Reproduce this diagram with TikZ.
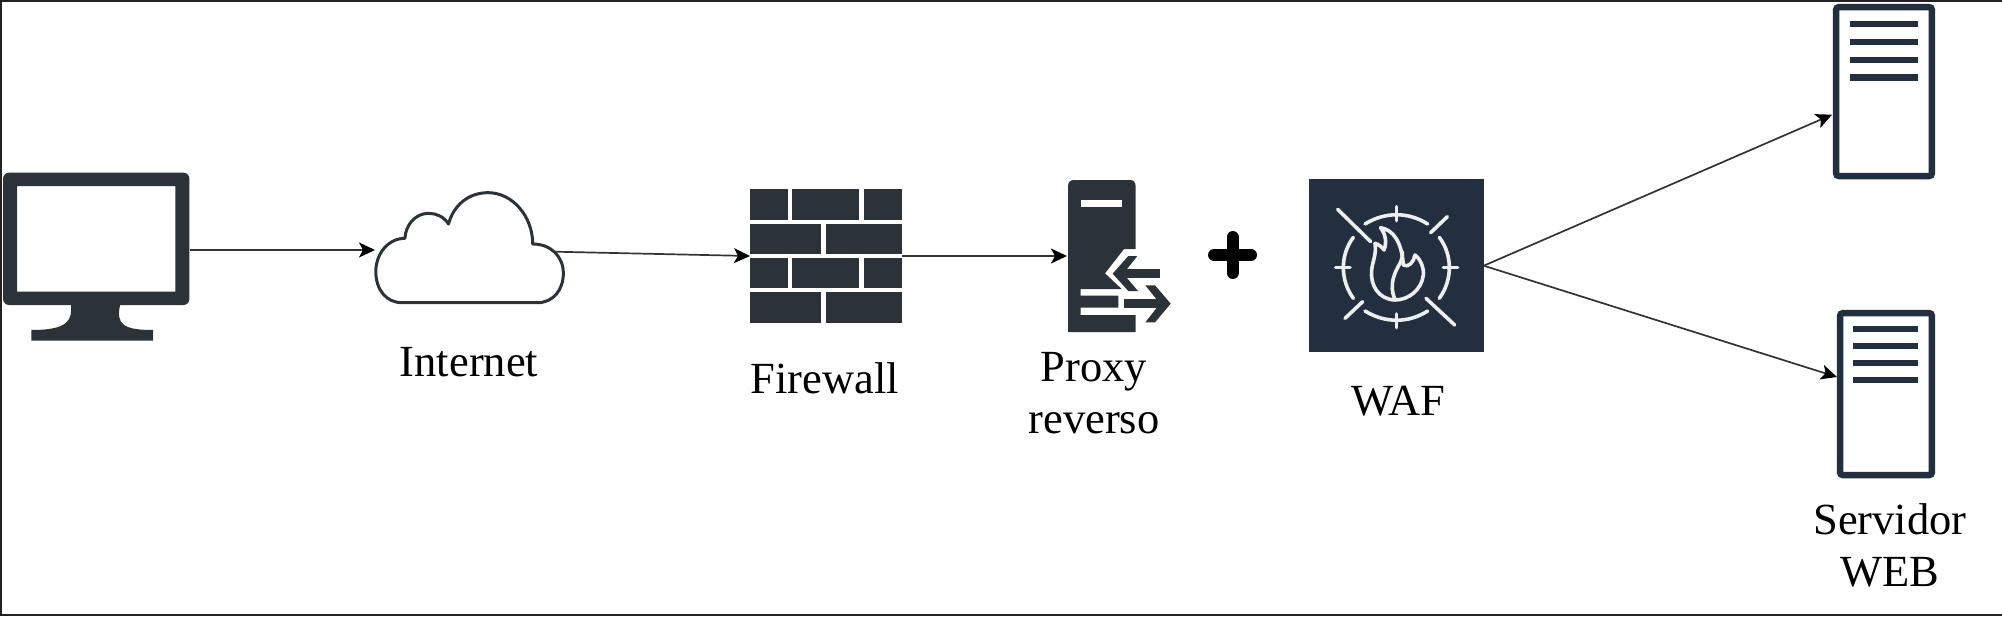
\documentclass[tikz,border=0pt]{standalone}
\usepackage{fontspec}
\setmainfont{Liberation Serif}
\usetikzlibrary{arrows.meta,calc}
\definecolor{icondark}{HTML}{2B3338}
\definecolor{awsnavy}{HTML}{232F3E}
\definecolor{frameink}{HTML}{222222}
\definecolor{wireink}{HTML}{333333}
\tikzset{
  anchorbox/.style={inner sep=0pt,outer sep=0pt,minimum width=#1},
  wire/.style={draw=wireink,line width=1.7pt,-{Stealth[length=16pt,width=15pt,inset=4pt,color=black]}},
  caption/.style={font=\fontsize{44.5}{52}\selectfont,text=black,inner sep=0pt,outer sep=0pt,align=center,anchor=base},
  brick/.style={fill=icondark},
  srvframe/.style={draw=awsnavy,line width=6.5pt,rounded corners=2.5pt},
  srvbar/.style={fill=awsnavy},
  wafline/.style={draw=white!92!awsnavy,line width=3.6pt,line cap=round,line join=round},
}
\begin{document}
\begin{tikzpicture}[x=1pt,y=-1pt]
\useasboundingbox (0,0) rectangle (2002,616);
\fill[white] (0,0) rectangle (2002,616);
% frame (dark on left, top and bottom only)
\fill[frameink] (0,0) rectangle (2002,2);
\fill[frameink] (0,0) rectangle (2,616);
\fill[frameink] (0,613.7) rectangle (2002,616);

% anchor nodes
\node[anchorbox=186.5pt,minimum height=168pt] (pc) at (96.25,256.7) {};
\node[anchorbox=187pt,minimum height=110pt] (cloud) at (469.5,247.7) {};
\node[anchorbox=151.7pt,minimum height=133.4pt] (fw) at (825.85,256) {};
\node[anchorbox=67.7pt,minimum height=152pt] (proxy) at (1101.85,256) {};
\node[anchorbox=174.7pt,minimum height=172.7pt] (waf) at (1396.4,265.7) {};
\node[anchorbox=102pt,minimum height=175.3pt] (srva) at (1884,91.7) {};
\node[anchorbox=98pt,minimum height=168pt] (srvb) at (1886,394) {};

% monitor + cloud
\begin{scope}[shift={(0,150)},xscale=0.3827,yscale=0.33333]
  \fill[icondark,even odd rule]
    [rounded corners=6pt] (8,68) -- (495,68) -- (495,465) -- (8,465) -- cycle
    [sharp corners] (45,108) -- (458,108) -- (458,425) -- (45,425) -- cycle;
  \fill[icondark] (185,460) .. controls (190,510) and (180,540) .. (82,540)
    -- (82,572) -- (400,572) -- (400,540)
    .. controls (325,540) and (300,525) .. (315,460) -- cycle;
  \draw[icondark,line width=3pt,line join=round,fill=white]
    (1050,458) -- (1405,458)
    .. controls (1445,458) and (1472,420) .. (1472,370)
    .. controls (1472,320) and (1440,282) .. (1392,282)
    .. controls (1392,200) and (1340,128) .. (1275,128)
    .. controls (1225,128) and (1185,165) .. (1172,222)
    .. controls (1160,200) and (1140,190) .. (1120,190)
    .. controls (1085,190) and (1060,225) .. (1058,265)
    .. controls (1015,265) and (982,310) .. (982,365)
    .. controls (982,420) and (1010,458) .. (1050,458) -- cycle;
\end{scope}

% firewall + proxy
\begin{scope}[shift={(720,150)},scale=0.33333]
  \foreach \ya/\yb in {118/210,325/415}{
    \fill[brick] (90,\ya) rectangle (203,\yb);
    \fill[brick] (216,\ya) rectangle (416,\yb);
    \fill[brick] (431,\ya) rectangle (545,\yb);
  }
  \foreach \ya/\yb in {222/312,427/518}{
    \fill[brick] (90,\ya) rectangle (304,\yb);
    \fill[brick] (318,\ya) rectangle (545,\yb);
  }
  % proxy body
  \fill[icondark] (1044,110) .. controls (1044,97) and (1050,90) .. (1062,90)
    -- (1230,90) .. controls (1241,90) and (1247,97) .. (1247,110)
    -- (1247,297) -- (1212,297) -- (1155,370) -- (1205,417) -- (1082,417)
    -- (1082,437) -- (1195,437) -- (1195,473) -- (1082,473) -- (1082,495)
    -- (1247,495) -- (1247,546) -- (1044,546) -- cycle;
  \fill[white] (1082,150) rectangle (1206,170);
  % left arrow
  \fill[icondark] (1200,358) rectangle (1320,385);
  \fill[icondark] (1178,371) -- (1225,318) -- (1252,318) -- (1210,371) -- (1254,423) -- (1225,423) -- cycle;
  % right arrow
  \fill[icondark] (1212,448) rectangle (1325,475);
  \fill[icondark] (1352,461) -- (1305,406) -- (1276,406) -- (1320,461) -- (1276,517) -- (1305,517) -- cycle;
\end{scope}

% plus
\draw[black,line width=12pt,line cap=round] (1214,255) -- (1251,255) (1232.7,237) -- (1232.7,273);

% WAF
\fill[awsnavy] (waf.north west) rectangle (waf.south east);
\begin{scope}[shift={(1280,150)},scale=0.33333]
  \draw[wafline] (173,178) -- (272,275) (438,445) -- (524,525)
    (452,248) -- (502,200) (195,505) -- (248,455);
  \draw[wafline] (349,170) -- (349,212) (167,352) -- (210,352)
    (490,352) -- (533,352) (349,492) -- (349,533);
  \draw[wafline] (255,222) .. controls (315,185) and (385,185) .. (443,222);
  \draw[wafline] (255,483) .. controls (315,520) and (385,520) .. (443,483);
  \draw[wafline] (220,262) .. controls (180,315) and (180,390) .. (220,445);
  \draw[wafline] (478,262) .. controls (518,315) and (518,390) .. (478,445);
\end{scope}
\begin{scope}[shift={(1340,205)},scale=0.33333]
  \draw[wafline] (122,68) .. controls (160,75) and (185,110) .. (190,180)
    .. controls (205,190) and (222,170) .. (225,150)
    .. controls (245,165) and (252,195) .. (250,210)
    .. controls (245,255) and (205,285) .. (165,285)
    .. controls (115,283) and (90,240) .. (95,195)
    .. controls (97,170) and (110,150) .. (105,115)
    .. controls (115,118) and (125,125) .. (132,135)
    .. controls (142,110) and (135,85) .. (122,68) -- cycle;
  \draw[wafline] (165,283) .. controls (145,240) and (165,200) .. (180,175)
    .. controls (187,160) and (188,150) .. (187,140);
\end{scope}

% servers
\draw[srvframe] (1836.2,7.2) rectangle (1931.8,176);
\foreach \yc in {24,42,59.7,77.3}{ \fill[srvbar] (1850,\yc-3.2) rectangle (1917.7,\yc+3.2); }
\draw[srvframe] (1840.2,313.2) rectangle (1931.8,475);
\foreach \yc in {329,346,363,380}{ \fill[srvbar] (1853,\yc-3.2) rectangle (1917.7,\yc+3.2); }

% connectors
\draw[wire] ([yshift=6.7pt]pc.east) -- ([xshift=-1pt,yshift=-2.3pt]cloud.west);
\draw[wire] ([xshift=-8pt,yshift=-4pt]cloud.east) -- (fw.west);
\draw[wire] (fw.east) -- ([xshift=-1pt]proxy.west);
\draw[wire] (waf.east) -- ([xshift=-1pt,yshift=-23pt]srva.west);
\draw[wire] (waf.east) -- ([yshift=17pt]srvb.west);

% captions
\node[caption] (capinternet) at (469,376) {Internet};
\node[caption] (capfw) at (825,393) {Firewall};
\node[caption] (capproxy) at (1094,433) {Proxy\\[0pt]reverso};
\node[caption] (capwaf) at (1398,415) {WAF};
\node[caption] (capsrv) at (1890,586.7) {Servidor\\[0pt]WEB};
\end{tikzpicture}
\end{document}
